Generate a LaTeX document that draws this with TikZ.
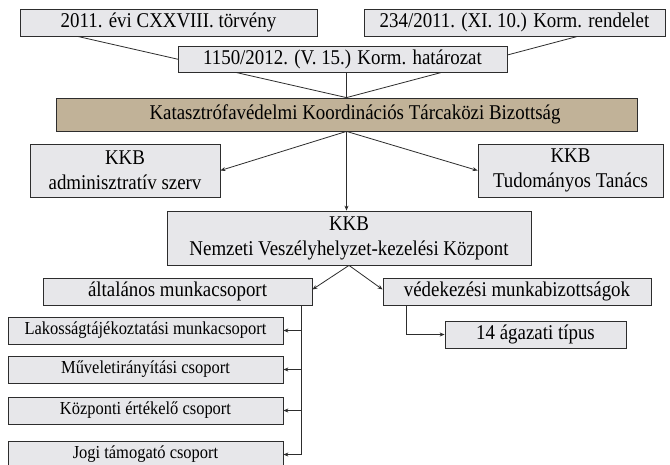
\documentclass[tikz,border=0pt]{standalone}
\usepackage{fontspec}
\setmainfont{Liberation Serif}[FakeStretch=0.9]
\usetikzlibrary{arrows.meta,backgrounds,calc}
\definecolor{boxfill}{RGB}{231,231,234}
\definecolor{linecol}{RGB}{45,45,45}
\definecolor{brownfill}{RGB}{193,178,152}
\newcommand{\bigtxt}{\fontsize{21}{25}\selectfont}
\newcommand{\smalltxt}{\fontsize{18.3}{21}\selectfont}
\begin{document}
\begin{tikzpicture}[x=1pt,y=-1pt,
  box/.style={draw=linecol, fill=boxfill, line width=0.8pt, inner sep=0pt, align=center, font=\bigtxt},
  sbox/.style={box, font=\smalltxt},
  conn/.style={draw=linecol, line width=0.8pt},
  arr/.style={conn, -{Stealth[length=5pt,width=4pt]}}]
\useasboundingbox (0,0) rectangle (670,464);
% top boxes
\node[box, minimum width=297pt, minimum height=27pt] (b1) at (168.5,22.5) {2011. évi CXXVIII. törvény};
\node[box, minimum width=301pt, minimum height=27pt] (b2) at (514.5,22.5) {234/2011. (XI. 10.) Korm. rendelet};
\node[box, minimum width=329pt, minimum height=26pt] (b3) at (342.5,59) {1150/2012. (V. 15.) Korm. határozat};
\node[box, fill=brownfill, minimum width=581pt, minimum height=33pt] (kkb) at (346.5,114.5) {};
\node[font=\bigtxt, inner sep=0pt] (kkbtxt) at (355,114.5) {Katasztrófavédelmi Koordinációs Tárcaközi Bizottság};
\node[box, minimum width=190pt, minimum height=53pt] (adm) at (125,170.5) {KKB\\adminisztratív szerv};
\node[box, minimum width=185pt, minimum height=53pt] (tud) at (570.5,170.5) {KKB\\Tudományos Tanács};
\node[box, minimum width=364pt, minimum height=54pt] (nvk) at (349,238) {KKB\\Nemzeti Veszélyhelyzet-kezelési Központ};
\node[box, minimum width=269pt, minimum height=27pt] (alt) at (177.5,291.5) {általános munkacsoport};
\node[box, minimum width=268pt, minimum height=27pt] (ved) at (517,291.5) {védekezési munkabizottságok};
\node[box, minimum width=181pt, minimum height=27pt] (agz) at (535.5,334.5) {14 ágazati típus};
\node[sbox, minimum width=275pt, minimum height=27pt] (lak) at (145.5,330.5) {Lakosságtájékoztatási munkacsoport};
\node[sbox, minimum width=275pt, minimum height=27pt] (mur) at (145.5,369.5) {Műveletirányítási csoport};
\node[sbox, minimum width=275pt, minimum height=27pt] (koz) at (145.5,410.5) {Központi értékelő csoport};
\node[sbox, minimum width=275pt, minimum height=27pt] (jog) at (145.5,454.5) {Jogi támogató csoport};
% connectors beneath the boxes
\begin{scope}[on background layer]
\fill[white] (0,0) rectangle (670,464);
\coordinate (b1out) at ($(b1.south west)+(58,0)$);
\coordinate (b2out) at ($(b2.south west)+(214,0)$);
\draw[conn] (b1out) -- (kkb.north);
\draw[conn] (b2out) -- (kkb.north);
\end{scope}
\draw[conn] (kkb.north |- b3.south) -- (kkb.north);
\draw[arr] (kkb.south) -- (adm.east);
\draw[arr] (kkb.south) -- (tud.west);
\draw[arr] (kkb.south) -- (kkb.south |- nvk.north);
\draw[arr] (nvk.south) -- ($(alt.east)+(0,-2)$);
\draw[arr] (nvk.south) -- ($(ved.west)+(0,-2)$);
\coordinate (trunk) at ($(alt.south east)+(-11,0)$);
\draw[arr] (trunk) |- (jog.east);
\draw[arr] (trunk |- lak.east) -- (lak.east);
\draw[arr] (trunk |- mur.east) -- (mur.east);
\draw[arr] (trunk |- koz.east) -- (koz.east);
\coordinate (vtrunk) at ($(ved.south west)+(24,0)$);
\draw[arr] (vtrunk) |- (agz.west);
\end{tikzpicture}
\end{document}
